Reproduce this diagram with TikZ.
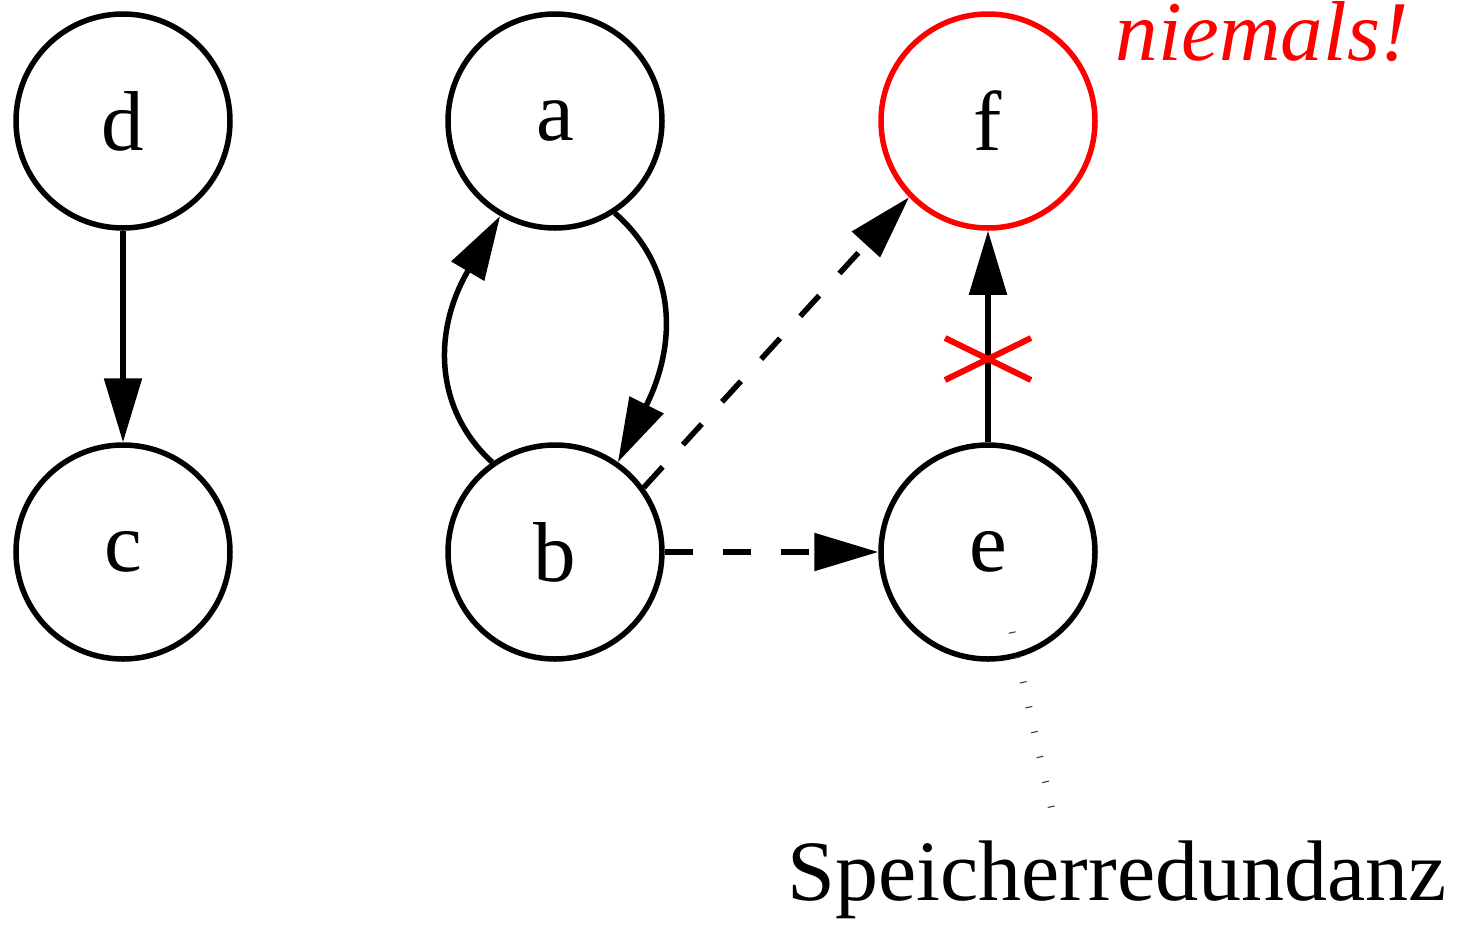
\documentclass[tikz,border=0pt]{standalone}
\usepackage{fontspec}
\setmainfont{Liberation Serif}
\newfontfamily\tms{Liberation Serif}
\usetikzlibrary{arrows.meta,calc}
\begin{document}
\begin{tikzpicture}[x=1pt,y=-1pt,
  vtx/.style={draw,circle,line width=5.5pt,minimum size=214pt,inner sep=0pt,font=\tms\fontsize{85}{100}\selectfont},
  redvtx/.style={vtx,draw=red},
  arr/.style={line width=5.5pt,-{Triangle[length=64pt,width=37pt]}},
  darr/.style={arr,dash pattern=on 28pt off 30pt},
  memo/.style={line width=7pt,black!75,dash pattern=on 1.1pt off 24.4pt},
  cross/.style={red,line width=6pt}]
\useasboundingbox (0,0) rectangle (1458,951);
\node[vtx] (d) at (123,121) {d};
\node[vtx] (a) at (555,121) {a};
\node[redvtx] (f) at (988,121) {f};
\node[vtx] (c) at (123,552) {c};
\node[vtx] (b) at (555,552) {b};
\node[vtx] (e) at (988,552) {e};
\node[red,anchor=base,inner sep=0pt,font=\tms\fontsize{85}{100}\selectfont\itshape] (nie) at (1262,60) {niemals!};
\node[anchor=base,inner sep=0pt,font=\tms\fontsize{86}{100}\selectfont] (lab) at (1117,900) {Speicherredundanz};
\draw[arr] (d) -- (c);
\draw[arr] (a.-57) .. controls (680,270) and (675,348) .. (b.55);
\draw[arr] (b.125) .. controls (435,410) and (432,332) .. (a.-120);
\draw[darr] (b.36) -- (f.-136);
\draw[darr] (b) -- (e);
\draw[arr] (e) -- (f);
\coordinate (xc) at (988,359);
\draw[cross] ($(xc)+(-43,-21)$) -- ($(xc)+(43,21)$);
\draw[cross] ($(xc)+(-43,21)$) -- ($(xc)+(43,-21)$);
\coordinate (eS) at (1012,632);
\coordinate (lT) at (1053,815);
\draw[memo] (eS) -- (lT);
\end{tikzpicture}
\end{document}
